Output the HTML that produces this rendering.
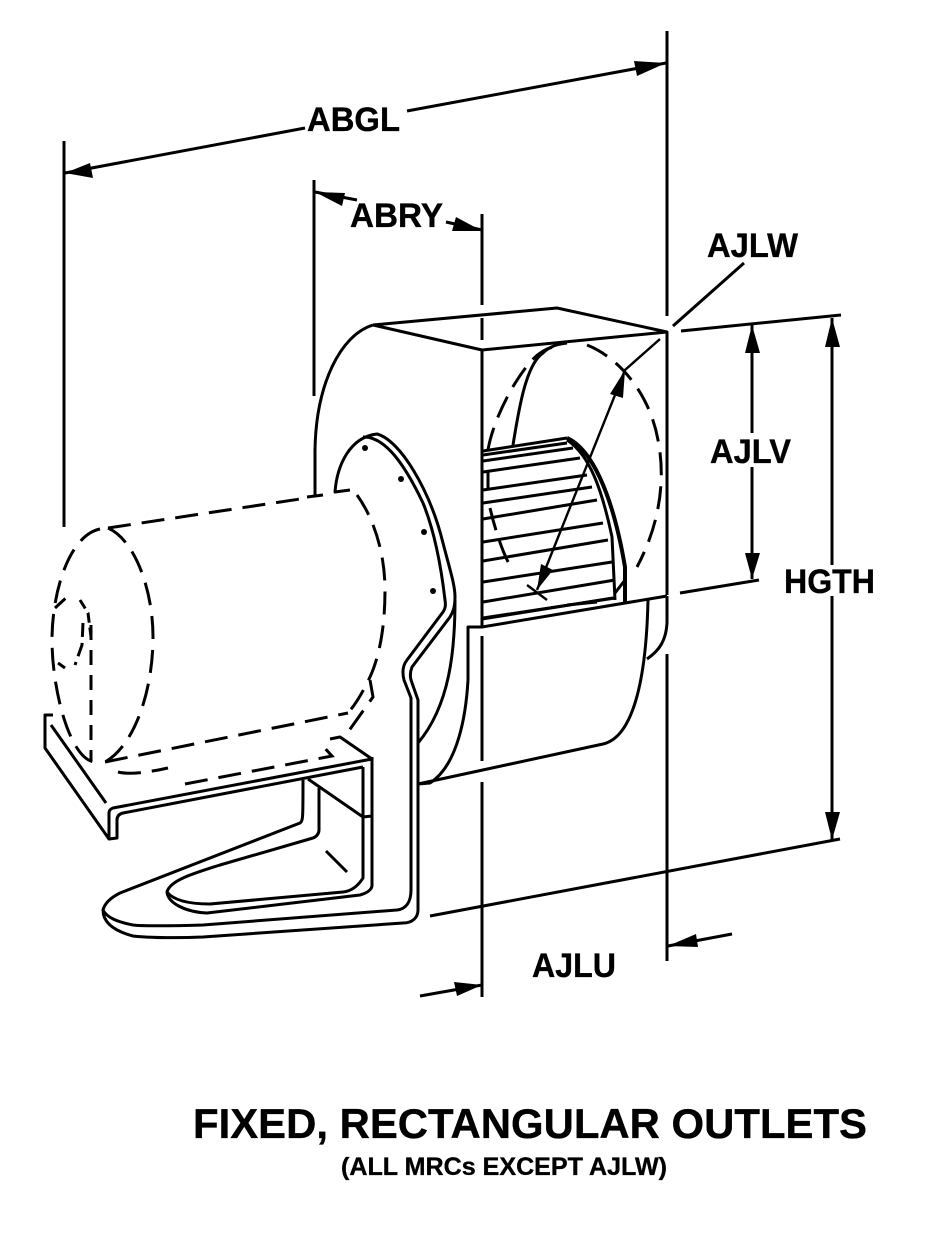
<!DOCTYPE html>
<html><head><meta charset="utf-8"><style>
html,body{margin:0;padding:0;background:#fff;width:932px;height:1236px;overflow:hidden}
svg{display:block}
text{font-family:"Liberation Sans",Arial,sans-serif;font-weight:bold;fill:#000;stroke:#000;stroke-width:.35}
.l{fill:none;stroke:#000;stroke-width:3;stroke-linejoin:round}
.n{fill:none;stroke:#000;stroke-width:2.4}
.d{fill:none;stroke:#000;stroke-width:3;stroke-dasharray:23 11}
.t{fill:none;stroke:#000;stroke-width:4}
</style></head><body>
<svg width="932" height="1236" viewBox="0 0 932 1236" xmlns="http://www.w3.org/2000/svg">
<rect width="932" height="1236" fill="#fff"/>
<g class="l">
<!-- extension lines -->
<path d="M64,141V527M314,180V396M482,214V305M482,318V340M482,350V627M482,636V761M482,782V997M667,31V316M667,332V595M667,654V961"/>
<!-- ABGL -->
<path d="M65,173L305,128M407,111L666,63"/>
<!-- ABRY -->
<path d="M315,192L357,200M446,222L482,230"/>
<!-- AJLW and ext -->
<path d="M673,326L744,263M681,331L841,315M680,593L759,580M430,916L840,839"/>
<path d="M752,325V433M752,467V579M832,318V565M832,596V840"/>
<path d="M420,996L482,985M732,934L668,946"/>
<!-- housing top -->
<path d="M373,325L557,308L667,332L482,350L373,325"/>
<path d="M373,325C340,335 316,385 315,450V495M307,497L323,495"/>
<!-- inlet ring -->
<path d="M350,490L335,492C337,465 350,437 377,434C400,440 430,490 443,543C450,570 455,585 455,597C455,607 453,612 450,617L412,667C410,672 410,676 411,680L418,700V910C418,918 412,923 403,923L203,937C180,938 150,938 133,936C118,932 103,925 103,910C105,902 112,897 120,893L300,823C303,821 303,818 303,780"/>
<path d="M363,437C385,436 405,465 423,503C432,525 440,557 445,600C446,606 445,609 443,612L407,660C403,665 402,672 404,680L411,698V890C411,902 406,909 397,910L203,925C170,926 140,926 133,925C118,922 107,918 103,910"/>
<path d="M319,788V830C319,834 316,837 313,838L220,865C195,873 170,880 167,892C168,903 185,912 207,913L360,895C367,893 372,890 372,885V757"/>
<path d="M363,767V878C358,886 352,891 343,892L210,904C195,904 175,902 167,892"/>
<!-- bracket -->
<path d="M372,759L340,737L330,739M372,759L113,808C110,809 109,811 109,813V839L117,838V820C117,816 119,814 123,813L363,767"/>
<path d="M53,715L45,715V748L109,839M51,725L106,803"/>
<path d="M308,779L363,817L372,816M326,851L347,872"/>
<!-- wheel lines -->
<path d="M483,451L567,438M483,455L567,443M483,461L573,448M483,472L580,458M483,490L587,475M483,503L592,487M483,519L597,500M483,542L603,523M483,561L608,540M483,582L612,562M483,602L615,580M483,618L615,598M488,472V490"/>
<path d="M567,440C590,455 602,490 612,537L615,600M615,593L625,580"/>
<path d="M513,445C518,415 525,365 543,353C550,346 558,344 567,343"/>
<!-- base & scroll -->
<path d="M468,680V627H482L667,596M482,619L613,598M567,605L597,602"/>
<path d="M468,680C466,715 458,765 430,783L418,784L603,744C630,738 646,690 648,600"/>
<path d="M667,596V623C666,640 660,650 647,659M455,600C455,650 450,705 418,743"/>
</g>
<g class="n">
<!-- diagonal -->
<path d="M660,339L625,370L537,590M527,585L547,600"/>
</g>
<path class="t" d="M567,438C590,448 612,490 625,567V602"/>
<!-- hidden lines -->
<g class="d">
<path d="M108,528L300,499"/>
<path d="M100,529C70,535 52,590 52,640C52,690 70,760 95,762"/>
<path d="M108,528C135,540 153,590 153,637C153,690 135,745 105,762"/>
<path d="M105,762L348,713"/>
<path d="M357,495C375,520 385,555 385,590C385,625 380,655 370,677C363,692 355,705 348,713"/>
<path d="M118,772C130,775 150,772 168,768"/>
<path d="M185,784L332,756L322,745"/>
<path d="M370,680L373,697L348,732"/>
<path d="M91,625V760" stroke-dasharray="15 10"/>
<path d="M80,600L88,613L91,637" stroke-dasharray="10 5"/>
<path d="M55,608L67,597M83,623L82,645L75,665M65,668L58,663" stroke-dasharray="14 6"/>
<path d="M488,450C492,425 510,385 532,360C540,352 548,348 553,347"/>
<path d="M587,345C620,358 650,395 658,440C665,475 662,520 637,567"/>
<path d="M490,508C495,530 505,560 513,570"/>
</g>
<!-- dots -->
<g fill="#000"><circle cx="365" cy="448" r="3"/><circle cx="401" cy="479" r="3"/><circle cx="424" cy="532" r="3"/><circle cx="433" cy="591" r="3"/></g>
<!-- arrowheads -->
<g fill="#000">
<polygon points="65,173 93,178 90,163"/>
<polygon points="666,63 637,76 634,61"/>
<polygon points="315,192 345,193 342,206"/>
<polygon points="482,231 452,231 456,217"/>
<polygon points="752,325 745,353 760,353"/>
<polygon points="752,579 745,553 760,553"/>
<polygon points="832,318 825,347 840,347"/>
<polygon points="832,840 825,812 840,812"/>
<polygon points="482,985 454,982 457,996"/>
<polygon points="668,946 696,934 698,947"/>
<polygon points="625,370 610,394 623,398"/>
<polygon points="537,590 541,564 553,570"/>
</g>
<!-- labels -->
<g font-size="34">
<text x="307" y="131" textLength="93" lengthAdjust="spacingAndGlyphs">ABGL</text>
<text x="350" y="227" textLength="93" lengthAdjust="spacingAndGlyphs">ABRY</text>
<text x="707" y="257" textLength="91" lengthAdjust="spacingAndGlyphs">AJLW</text>
<text x="710" y="463" textLength="81" lengthAdjust="spacingAndGlyphs">AJLV</text>
<text x="784" y="593" textLength="91" lengthAdjust="spacingAndGlyphs">HGTH</text>
<text x="532" y="977" textLength="84" lengthAdjust="spacingAndGlyphs">AJLU</text>
</g>
<text x="193" y="1138" font-size="42" textLength="674" lengthAdjust="spacingAndGlyphs">FIXED, RECTANGULAR OUTLETS</text>
<text x="341" y="1175" font-size="25" textLength="326" lengthAdjust="spacingAndGlyphs">(ALL MRCs EXCEPT AJLW)</text>
</svg>
</body></html>
